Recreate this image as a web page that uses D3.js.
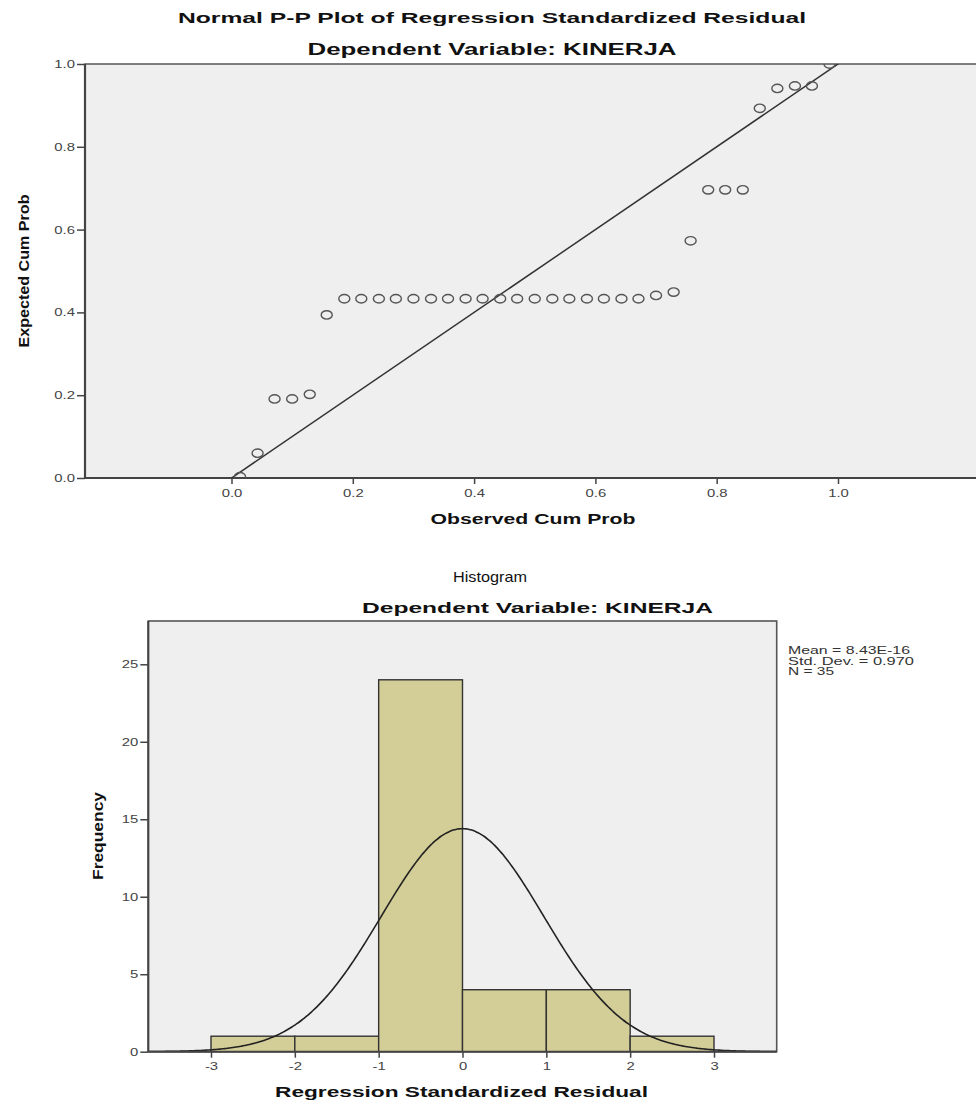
<!DOCTYPE html>
<html><head><meta charset="utf-8">
<script src="https://cdn.jsdelivr.net/npm/d3@7"></script>
<style>
body{margin:0;background:#fff}
text{font-family:"Liberation Sans",Arial,sans-serif}
</style>
</head><body>
<svg id="c" width="976" height="1104"></svg>
<script>
// ---------- data ----------
const observedCumProb = [0.014, 0.043, 0.071, 0.100, 0.129, 0.157, 0.186, 0.214, 0.243, 0.271,
  0.300, 0.329, 0.357, 0.386, 0.414, 0.443, 0.471, 0.500, 0.529, 0.557,
  0.586, 0.614, 0.643, 0.671, 0.700, 0.729, 0.757, 0.786, 0.814, 0.843,
  0.871, 0.900, 0.929, 0.957, 0.986];
const expectedCumProb = [0.003, 0.060, 0.191, 0.191, 0.202, 0.394, 0.433, 0.433, 0.433, 0.433,
  0.433, 0.433, 0.433, 0.433, 0.433, 0.433, 0.433, 0.433, 0.433, 0.433,
  0.433, 0.433, 0.433, 0.433, 0.441, 0.449, 0.573, 0.696, 0.696, 0.696,
  0.893, 0.941, 0.947, 0.947, 1.000];
const ppTicks = [0, 0.2, 0.4, 0.6, 0.8, 1.0];

const binStarts = [-3, -2, -1, 0, 1, 2];
const binEnds   = [-2, -1, 0, 1, 2, 3];
const binCounts = [1, 1, 24, 4, 4, 1];
const histXTicks = [-3, -2, -1, 0, 1, 2, 3];
const histYTicks = [0, 5, 10, 15, 20, 25];
const statLabels = ["Mean = 8.43E-16", "Std. Dev. = 0.970", "N = 35"];
const statMean = 8.43e-16, statSD = 0.970, statN = 35;

// ---------- helpers ----------
const svg = d3.select("#c");
const STRETCH = 1.35;
function stretch(sel, f) {
  sel.each(function () {
    const w = this.getComputedTextLength();
    this.setAttribute("textLength", w * f);
    this.setAttribute("lengthAdjust", "spacingAndGlyphs");
  });
}
function fixedLen(sel, len) {
  sel.attr("textLength", len).attr("lengthAdjust", "spacingAndGlyphs");
}
function styleAxis(g) {
  g.select(".domain").remove();
  g.selectAll(".tick line").attr("stroke", "#444").attr("stroke-width", 1.5);
  g.selectAll(".tick text").attr("fill", "#444").attr("font-size", 11)
    .attr("font-family", "'Liberation Sans',Arial,sans-serif");
}
const hyphenInt = (d) => String(d);

// ---------- P-P plot ----------
const pp = { l: 85, r: 990, t: 64, b: 478 };
const ppX = d3.scaleLinear().domain([0, 1]).range([231.5, 838]);
const ppY = d3.scaleLinear().domain([0, 1]).range([478, 64]);

svg.append("text").attr("x", 492).attr("y", 23).attr("text-anchor", "middle")
  .attr("font-size", 15.5).attr("font-weight", "bold").attr("fill", "#111")
  .text("Normal P-P Plot of Regression Standardized Residual").call(fixedLen, 628);
svg.append("text").attr("x", 492).attr("y", 55).attr("text-anchor", "middle")
  .attr("font-size", 16).attr("font-weight", "bold").attr("fill", "#111")
  .text("Dependent Variable: KINERJA").call(fixedLen, 369);

svg.append("rect").attr("x", pp.l).attr("y", pp.t).attr("width", pp.r - pp.l).attr("height", pp.b - pp.t)
  .attr("fill", "#efefef").attr("stroke", "#555").attr("stroke-width", 1.5);
svg.append("line").attr("x1", pp.l).attr("x2", pp.l).attr("y1", pp.t).attr("y2", pp.b)
  .attr("stroke", "#444").attr("stroke-width", 2.2);
svg.append("line").attr("x1", pp.l).attr("x2", 976).attr("y1", pp.b).attr("y2", pp.b)
  .attr("stroke", "#444").attr("stroke-width", 2);

svg.append("defs").append("clipPath").attr("id", "ppclip").append("rect")
  .attr("x", pp.l).attr("y", pp.t).attr("width", pp.r - pp.l).attr("height", pp.b - pp.t);

const ppG = svg.append("g").attr("clip-path", "url(#ppclip)");
ppG.append("line").attr("x1", ppX(0)).attr("y1", ppY(0)).attr("x2", ppX(1.05)).attr("y2", ppY(1.05))
  .attr("stroke", "#333").attr("stroke-width", 1.5);
ppG.selectAll("ellipse").data(observedCumProb).join("ellipse")
  .attr("cx", (d) => ppX(d)).attr("cy", (d, i) => ppY(expectedCumProb[i]))
  .attr("rx", 5.5).attr("ry", 4.2).attr("fill", "none").attr("stroke", "#555").attr("stroke-width", 1.4);

const ppYAxis = svg.append("g").attr("transform", `translate(${pp.l},0)`)
  .call(d3.axisLeft(ppY).tickValues(ppTicks).tickFormat(d3.format(".1f")).tickSize(8).tickPadding(2));
styleAxis(ppYAxis);
stretch(ppYAxis.selectAll(".tick text"), STRETCH);
const ppXAxis = svg.append("g").attr("transform", `translate(0,${pp.b})`)
  .call(d3.axisBottom(ppX).tickValues(ppTicks).tickFormat(d3.format(".1f")).tickSize(6).tickPadding(5));
styleAxis(ppXAxis);
stretch(ppXAxis.selectAll(".tick text"), STRETCH);

svg.append("text").attr("transform", `translate(29,271) rotate(-90)`).attr("text-anchor", "middle")
  .attr("font-size", 15).attr("font-weight", "bold").attr("fill", "#111")
  .text("Expected Cum Prob").call(fixedLen, 153);
svg.append("text").attr("x", 533).attr("y", 524).attr("text-anchor", "middle")
  .attr("font-size", 14.5).attr("font-weight", "bold").attr("fill", "#111")
  .text("Observed Cum Prob").call(fixedLen, 205);

// ---------- Histogram ----------
const hs = { l: 148.3, r: 776.7, t: 621, b: 1051.7 };
const hX = d3.scaleLinear().domain([-3, 3]).range([211, 714]);
const hY = d3.scaleLinear().domain([0, 25]).range([1051.7, 664.3]);

svg.append("text").attr("x", 490).attr("y", 582).attr("text-anchor", "middle")
  .attr("font-size", 15).attr("fill", "#111")
  .text("Histogram").call(fixedLen, 74);
svg.append("text").attr("x", 537.5).attr("y", 613).attr("text-anchor", "middle")
  .attr("font-size", 15.5).attr("font-weight", "bold").attr("fill", "#111")
  .text("Dependent Variable: KINERJA").call(fixedLen, 351);

svg.append("rect").attr("x", hs.l).attr("y", hs.t).attr("width", hs.r - hs.l).attr("height", hs.b - hs.t)
  .attr("fill", "#efefef").attr("stroke", "#555").attr("stroke-width", 1.6);

svg.append("defs").append("clipPath").attr("id", "hclip").append("rect")
  .attr("x", hs.l).attr("y", hs.t).attr("width", hs.r - hs.l).attr("height", hs.b - hs.t);
const hG = svg.append("g").attr("clip-path", "url(#hclip)");

hG.selectAll("rect.bar").data(binCounts).join("rect").attr("class", "bar")
  .attr("x", (d, i) => hX(binStarts[i])).attr("width", (d, i) => hX(binEnds[i]) - hX(binStarts[i]))
  .attr("y", (d) => hY(d)).attr("height", (d) => hY(0) - hY(d))
  .attr("fill", "#d3cd97").attr("stroke", "#333").attr("stroke-width", 1.4);

const binW = 1;
const curveX = d3.range(-3.8, 3.81, 0.02);
const pdf = (x) => statN * binW * Math.exp(-0.5 * ((x - statMean) / statSD) ** 2) / (statSD * Math.sqrt(2 * Math.PI));
hG.append("path").datum(curveX)
  .attr("d", d3.line().x((d) => hX(d)).y((d) => hY(pdf(d))).curve(d3.curveBasis))
  .attr("fill", "none").attr("stroke", "#222").attr("stroke-width", 1.6);

svg.append("line").attr("x1", hs.l).attr("x2", hs.r).attr("y1", hs.b).attr("y2", hs.b)
  .attr("stroke", "#444").attr("stroke-width", 2);
svg.append("line").attr("x1", hs.l).attr("x2", hs.l).attr("y1", hs.t).attr("y2", hs.b)
  .attr("stroke", "#444").attr("stroke-width", 2);

const hYAxis = svg.append("g").attr("transform", `translate(${hs.l},0)`)
  .call(d3.axisLeft(hY).tickValues(histYTicks).tickFormat(hyphenInt).tickSize(8).tickPadding(2));
styleAxis(hYAxis);
stretch(hYAxis.selectAll(".tick text"), STRETCH);
const hXAxis = svg.append("g").attr("transform", `translate(0,${hs.b})`)
  .call(d3.axisBottom(hX).tickValues(histXTicks).tickFormat(hyphenInt).tickSize(6).tickPadding(5));
styleAxis(hXAxis);
stretch(hXAxis.selectAll(".tick text"), STRETCH);

svg.append("text").attr("transform", `translate(103,836) rotate(-90)`).attr("text-anchor", "middle")
  .attr("font-size", 14).attr("font-weight", "bold").attr("fill", "#111")
  .text("Frequency").call(fixedLen, 88);
svg.append("text").attr("x", 461.5).attr("y", 1097).attr("text-anchor", "middle")
  .attr("font-size", 15).attr("font-weight", "bold").attr("fill", "#111")
  .text("Regression Standardized Residual").call(fixedLen, 373);

const statWidths = [122, 126, 46];
svg.append("g").selectAll("text").data(statLabels).join("text")
  .attr("x", 788).attr("y", (d, i) => 654 + i * 10.5)
  .attr("font-size", 11).attr("fill", "#333")
  .text((d) => d)
  .each(function (d, i) { d3.select(this).call(fixedLen, statWidths[i]); });
</script>
</body></html>
